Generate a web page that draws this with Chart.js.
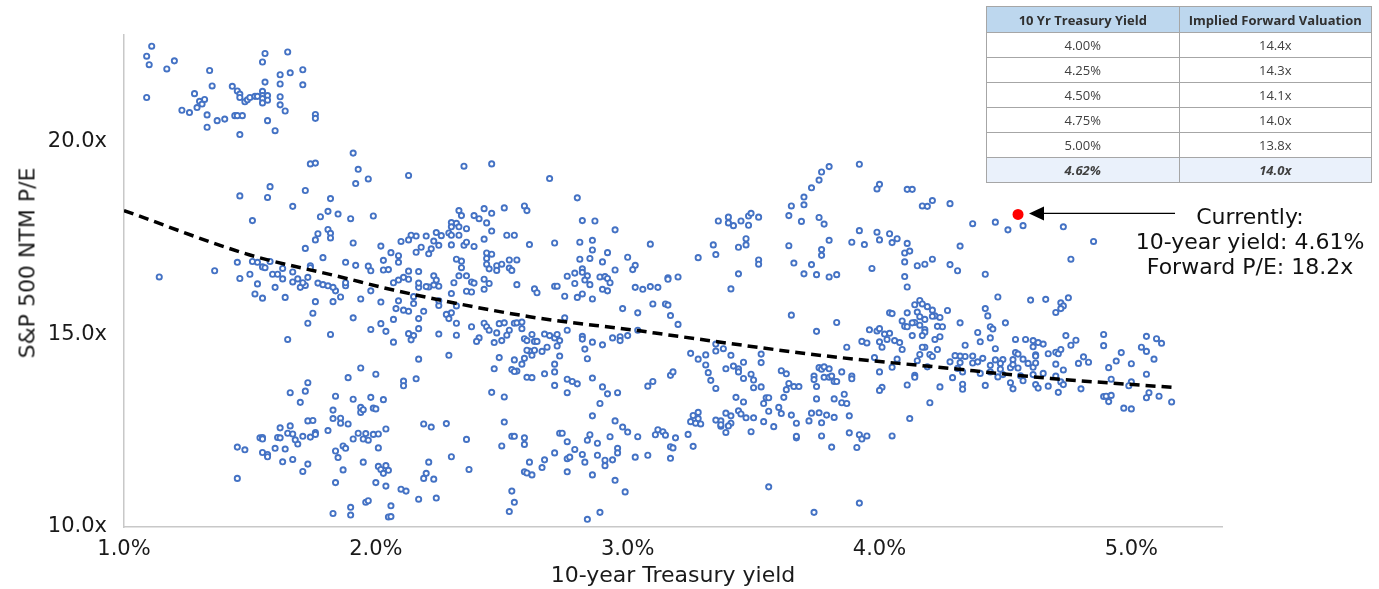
<!DOCTYPE html>
<html lang="en">
<head>
  <meta charset="UTF-8" />
  <title>S&amp;P 500 forward P/E vs 10-year Treasury yield</title>
  <script src="https://cdn.jsdelivr.net/npm/chart.js"></script>
  <style>
    body { margin: 0; background: #fff; font-family: "DejaVu Sans", sans-serif; }
    #wrap { position: relative; width: 1379px; height: 589px; }
    #yTitle { position: absolute; left: 27px; top: 263px; transform: translate(-50%, -50%) rotate(-90deg);
              white-space: nowrap; font-size: 22px; color: #1a1a1a; }
    #note { position: absolute; left: 1120px; width: 260px; top: 204px; text-align: center;
            font-size: 22px; line-height: 25px; color: #111; }
    #valTable { position: absolute; left: 986px; top: 6px; width: 386px; border-collapse: collapse;
                font-family: "Open Sans", sans-serif; font-size: 13px; color: #404040; }
    #valTable th, #valTable td { border: 1px solid #a6a6a6; text-align: center; padding: 0; width: 50%; }
    #valTable th { background: #bdd7ee; height: 25px; font-size: 13px; font-weight: bold; color: #303030; }
    #valTable td { height: 24px; }
    #valTable tr.now td { background: #eaf1fb; font-weight: bold; font-style: italic; }
  </style>
</head>
<body>
<div id="wrap">
  <canvas id="chart" width="1379" height="589"></canvas>
  <div id="yTitle">S&amp;P 500 NTM P/E</div>
  <table id="valTable">
    <thead><tr><th>10 Yr Treasury Yield</th><th>Implied Forward Valuation</th></tr></thead>
    <tbody id="valBody"></tbody>
  </table>
  <div id="note">Currently:<br>10-year yield: 4.61%<br>Forward P/E: 18.2x</div>
</div>

<script>
  // axis ticks
  const xTicks = [1, 2, 3, 4, 5];
  const yTicks = [10, 15, 20];

  // valuation table
  const tableYield = ['4.00%', '4.25%', '4.50%', '4.75%', '5.00%', '4.62%'];
  const tableValuation = ['14.4x', '14.3x', '14.1x', '14.0x', '13.8x', '14.0x'];

  // current reading (red dot)
  const currentYield = 4.55;
  const currentPE = 18.1;

  // dashed trend line
  const trendYield = [1.0, 1.5, 1.86, 2.07, 2.61, 3.04, 3.17, 3.79, 4.22, 4.68, 5.16];
  const trendPE = [18.2, 17.05, 16.48, 16.14, 15.45, 15.09, 14.97, 14.43, 14.15, 13.85, 13.62];

  // history: [10y yield %, NTM P/E]
  const history = [
    [1.11,22.46],[1.09,22.2],[1.10,21.98],[1.09,21.13],[1.17,21.87],[1.20,22.08],[1.34,21.83],[1.35,21.43],
    [1.28,21.23],[1.30,21.03],[1.31,20.96],[1.29,20.87],[1.32,21.08],[1.23,20.8],[1.26,20.74],[1.33,20.68],
    [1.33,20.36],[1.37,20.53],[1.40,20.57],[1.43,21.42],[1.45,21.3],[1.46,21.22],[1.46,21.13],[1.44,20.66],
    [1.45,20.66],[1.47,20.66],[1.46,20.17],[1.48,21.02],[1.49,21.07],[1.50,21.13],[1.52,21.16],[1.53,21.16],
    [1.55,21.29],[1.55,21.18],[1.55,21.10],[1.55,20.99],[1.56,22.27],[1.55,22.05],[1.56,21.53],[1.57,21.18],
    [1.57,21.06],[1.57,20.53],[1.60,20.27],[1.62,20.94],[1.62,21.15],[1.62,21.48],[1.62,21.72],[1.65,22.31],
    [1.66,21.77],[1.64,20.78],[1.71,21.85],[1.71,21.46],[1.76,20.69],[1.76,20.59],
    [1.74,19.41],[1.76,19.43],[1.91,19.69],[1.93,19.27],[1.92,18.9],[1.97,19.02],[1.46,18.58],[1.58,18.82],
    [1.57,18.54],[1.72,18.72],[1.67,18.31],[1.82,18.51],[1.81,18.18],[1.85,18.11],[1.90,17.99],[1.78,18.04],
    [1.99,18.06],[1.51,17.94],[1.81,17.71],[1.82,17.61],[1.82,17.49],[1.77,17.6],[1.76,17.44],[1.91,17.36],
    [1.72,17.22],[1.79,16.98],[2.02,17.28],[2.06,17.11],[2.09,17.03],[2.10,17.4],[2.03,16.91],[1.45,16.86],
    [1.51,16.88],[1.53,16.86],[1.55,16.74],[1.56,16.72],[1.58,16.88],[1.63,16.7],[1.67,16.61],[1.74,16.77],
    [1.74,16.72],[1.88,16.86],[1.92,16.78],[1.97,16.76],[1.98,16.64],[2.03,16.66],[2.05,16.67],[1.36,16.64],
    [1.14,16.48],[1.46,16.44],[1.50,16.55],
    [1.53,16.3],[1.52,16.04],[1.55,15.93],[1.59,16.55],[1.61,16.55],[1.63,16.43],[1.60,16.21],[1.64,15.95],
    [1.67,16.35],[1.69,16.43],[1.70,16.21],[1.72,16.26],[1.73,16.47],[1.71,16.33],[1.77,16.32],[1.79,16.28],
    [1.81,16.25],[1.76,15.84],[1.75,15.54],[1.73,15.28],[1.83,15.84],[1.82,14.99],[1.86,15.96],[1.84,16.12],
    [1.83,16.21],[1.88,16.25],[1.88,16.33],[1.94,15.91],[1.98,16.12],[2.02,15.83],[1.91,15.42],[1.98,15.12],
    [2.02,15.27],[2.04,15.07],[2.07,15.38],[2.07,14.79],[1.65,14.86],[2.09,15.86],[2.08,15.66],
    [1.94,14.12],[1.89,13.87],[2.00,13.96],[1.73,13.74],[1.66,13.48],[1.72,13.52],[1.70,13.23],[1.84,13.39],
    [1.91,13.31],[1.98,13.36],[2.03,13.3],[1.94,13.1],[1.94,12.97],[1.95,13.04],[1.99,13.08],[2.00,13.06],
    [1.83,13.03],[1.83,12.81],[1.86,12.82],[1.86,12.69],[1.89,12.67],[1.73,12.75],[1.75,12.76],[1.76,12.45],
    [1.76,12.4],[1.81,12.5],[1.62,12.57],[1.66,12.62],[1.65,12.43],[1.67,12.41],[1.61,12.32],[1.62,12.31],
    [1.54,12.31],[1.55,12.32],[1.55,12.28],[1.45,12.07],[1.48,12.0],[1.69,12.15],[1.68,12.26],[1.71,12.35],
    [1.74,12.33],[1.60,12.04],[1.64,12.02],[1.55,11.93],[1.57,11.88],[1.57,11.82],[1.63,11.69],[1.67,11.75],
    [1.73,11.63],[1.71,11.44],[1.45,11.26],[1.84,11.97],[1.85,11.8],[1.87,12.1],[1.88,12.04],[1.87,11.48],
    [1.93,12.43],[1.91,12.28],[1.95,12.28],[1.96,12.42],[1.97,12.25],[1.99,12.4],[2.01,12.41],[2.04,12.54],
    [2.01,12.05],[1.95,11.68],[2.01,11.57],[2.02,11.49],[2.04,11.59],[2.05,11.47],[2.03,11.39],[1.84,11.15],
    [2.00,11.15],[2.04,11.06],[2.10,10.98],[1.96,10.64],[1.97,10.68],[2.06,10.55],[1.83,10.35],[1.90,10.51],
    [1.90,10.31],[2.05,10.26],
    [2.13,19.11],[2.35,19.35],[2.46,19.41],[2.69,19.03],[2.80,18.53],[2.33,18.2],[2.34,18.07],[2.39,18.07],
    [2.41,17.99],[2.43,18.25],[2.46,18.13],[2.51,18.27],[2.59,18.32],[2.60,18.2],[2.82,17.94],[2.87,17.93],
    [2.95,17.7],[3.09,17.33],[2.30,17.89],[2.32,17.87],[2.30,17.78],[2.33,17.78],[2.36,17.73],[2.29,17.62],
    [2.30,17.56],[2.33,17.56],[2.24,17.63],[2.26,17.55],[2.20,17.54],[2.16,17.54],[2.14,17.56],[2.13,17.44],
    [2.44,17.88],[2.46,17.67],[2.52,17.56],[2.55,17.56],[2.43,17.46],[2.23,17.41],[2.30,17.31],[2.35,17.3],
    [2.36,17.38],[2.39,17.27],[2.25,17.3],[2.22,17.21],[2.18,17.25],[2.16,17.12],[2.21,17.08],[2.61,17.32],
    [2.71,17.36],[2.86,17.43],[2.86,17.18],[2.92,17.11],[2.81,16.94],[2.85,16.96],[2.90,16.87],[3.00,16.99],
    [3.03,16.78],[3.02,16.67],[2.95,16.66],[2.81,17.38],[2.44,17.1],[2.46,17.07],[2.44,16.96],[2.32,16.94],
    [2.34,16.89],[2.53,16.92],[2.56,16.92],[2.44,16.81],[2.48,16.77],[2.50,16.81],[2.45,16.69],[2.48,16.65],
    [2.53,16.71],[2.54,16.65],[2.34,16.72],[2.09,16.86],[2.13,16.63],[2.17,16.62],[2.23,16.51],[2.33,16.51],
    [2.36,16.51],[2.76,16.5],[2.79,16.58],[2.82,16.69],[2.82,16.6],[2.84,16.51],[2.89,16.48],[2.91,16.49],
    [2.92,16.44],[3.16,16.46],
    [2.07,16.33],[2.09,16.40],[2.11,16.47],[2.13,16.42],[2.24,16.4],[2.25,16.24],[2.23,16.27],[2.21,16.22],
    [2.17,16.21],[2.17,16.32],[2.20,16.23],[2.31,16.33],[2.38,16.35],[2.39,16.32],[2.38,16.09],[2.36,16.11],
    [2.43,16.16],[2.43,16.42],[2.45,16.31],[2.56,16.28],[2.63,16.17],[2.64,16.07],[2.71,16.24],[2.72,16.24],
    [2.75,15.98],[2.79,16.31],[2.80,15.95],[2.82,16.04],[2.83,16.4],[2.85,16.28],[2.86,15.91],[2.90,16.16],
    [2.92,16.12],[2.93,16.33],[3.03,16.21],[3.06,16.16],[3.09,16.23],[3.12,16.21],[3.16,16.42],[3.10,15.78],
    [3.15,15.78],[2.98,15.66],[3.04,15.55],[3.17,15.48],
    [2.11,15.62],[2.13,15.59],[2.15,15.79],[2.15,15.97],[2.19,15.59],[2.25,15.74],[2.25,15.86],[2.30,16.05],
    [2.32,15.73],[2.30,15.55],[2.28,15.51],[2.29,15.4],[2.32,15.28],[2.17,15.4],[2.17,15.14],[2.13,15.01],
    [2.15,14.96],[2.14,14.85],[2.25,15.0],[2.32,14.97],[2.17,14.35],[2.29,14.45],[2.11,13.78],[2.11,13.66],
    [2.16,13.84],
    [2.38,15.19],[2.43,15.28],[2.44,15.19],[2.45,15.1],[2.48,15.03],[2.49,15.27],[2.51,15.29],[2.53,15.1],
    [2.55,15.28],[2.56,15.29],[2.58,15.14],[2.58,15.31],[2.52,14.97],[2.50,14.83],[2.47,14.78],[2.41,14.9],
    [2.40,14.81],[2.59,14.88],[2.60,14.83],[2.62,14.99],[2.63,14.81],[2.64,14.81],[2.67,15.0],[2.69,14.96],
    [2.71,14.9],[2.72,14.99],[2.73,14.83],[2.72,14.69],[2.68,14.66],[2.66,14.55],[2.63,14.58],[2.61,14.56],
    [2.60,14.58],[2.62,14.45],[2.59,14.37],[2.58,14.22],[2.55,14.33],[2.56,14.04],[2.54,14.08],[2.55,14.03],
    [2.49,14.39],[2.47,14.1],[2.73,14.43],[2.71,14.22],[2.71,14.02],[2.71,13.67],[2.67,13.97],[2.60,13.88],
    [2.62,13.87],
    [2.76,15.1],[2.75,15.42],[2.82,14.94],[2.82,14.87],[2.83,14.61],[2.84,14.36],[2.86,14.79],[2.90,14.72],
    [2.94,14.9],[2.97,14.93],[2.97,14.83],[3.00,14.96],[3.04,15.1],
    [2.76,13.83],[2.78,13.77],[2.80,13.71],[2.76,13.48],[2.86,13.86],[2.90,13.63],[2.92,13.45],[2.96,13.48],
    [2.89,13.2],[3.08,13.65],[3.10,13.77],[3.17,13.93],[2.46,13.49],[2.51,13.37],
    [2.19,12.67],[2.22,12.59],[2.28,12.68],[2.36,12.27],[2.30,11.82],[2.37,11.49],[2.21,11.68],[2.20,11.39],
    [2.19,11.26],[2.23,11.24],[2.12,10.93],[2.17,10.72],[2.24,10.75],[2.06,10.27],
    [2.51,12.72],[2.54,12.35],[2.55,12.35],[2.59,12.31],[2.59,12.14],[2.50,12.1],[2.61,11.68],[2.59,11.43],
    [2.60,11.4],[2.62,11.35],[2.66,11.54],[2.67,11.74],[2.71,11.92],[2.54,10.93],[2.55,10.64],[2.53,10.4],
    [2.73,12.43],[2.74,12.43],[2.76,12.21],[2.79,12.01],[2.76,11.77],[2.77,11.81],[2.82,11.88],[2.76,11.43],
    [2.83,11.68],[2.85,12.39],[2.84,12.25],[2.88,12.17],[2.88,11.86],[2.86,11.35],[2.91,11.73],[2.91,11.59],
    [2.93,12.34],[2.94,11.74],[2.95,12.75],[2.96,12.04],[2.96,11.92],[2.98,12.59],[3.00,12.46],[2.95,11.21],
    [2.99,10.91],[3.03,11.81],[3.04,12.34],[3.08,11.86],[3.12,12.52],[3.11,12.39],[3.14,12.47],[3.15,12.38],
    [3.17,12.08],[3.17,11.78],[2.84,10.2],[2.89,10.38],[2.86,12.88],
    [3.92,19.4],[3.80,19.34],[3.77,19.2],[3.76,18.99],[3.73,18.79],[3.70,18.55],[3.65,18.32],[3.70,18.35],
    [3.64,18.07],[3.69,17.92],[3.76,18.02],[3.78,17.85],[4.00,18.88],[3.99,18.76],[4.11,18.75],[4.13,18.75],
    [4.21,18.46],[4.17,18.32],[4.19,18.31],
    [3.36,17.93],[3.40,18.03],[3.40,17.88],[3.42,17.81],[3.45,17.93],[3.48,18.06],[3.49,18.13],[3.48,17.82],
    [3.52,18.03],[3.34,17.31],[3.35,17.06],[3.28,16.98],[3.44,17.25],[3.47,17.31],[3.47,17.47],[3.52,16.92],
    [3.52,16.81],[3.44,16.56],[3.20,16.48],
    [3.64,17.29],[3.66,16.84],[3.70,16.56],[3.73,16.8],[3.75,16.54],[3.77,17.19],[3.77,17.04],[3.80,17.43],
    [3.80,16.48],[3.83,16.54],[3.89,17.38],[3.92,17.68],[3.94,17.32],[3.97,16.7],[3.99,17.64],[4.00,17.44],
    [4.04,17.6],[4.05,17.37],[4.07,17.47],[4.11,17.35],[4.10,17.1],[4.12,17.15],[4.10,16.87],[4.10,16.49],
    [4.15,16.77],[4.18,16.81],[4.21,16.94],
    [3.41,16.17],[4.11,16.22],[3.16,15.75],[3.20,15.25],[3.65,15.49],[3.83,15.3],[3.75,15.07],[3.18,14.02],
    [3.25,14.5],[3.28,14.35],[3.31,14.2],[3.31,14.46],[3.32,14.0],[3.33,13.8],[3.35,13.59],[3.35,14.74],
    [3.35,14.56],[3.38,14.62],[3.41,14.45],[3.39,14.1],[3.42,14.17],[3.44,14.1],[3.44,14.02],[3.46,14.27],
    [3.46,13.85],[3.49,13.96],[3.50,13.81],[3.50,13.61],[3.53,13.63],[3.53,14.48],[3.53,14.26],
    [3.43,13.36],[3.46,13.24],[3.44,13.01],[3.45,12.93],[3.47,12.83],[3.50,12.83],[3.49,12.47],[3.41,12.88],
    [3.41,12.69],[3.39,12.45],[3.39,12.95],[3.37,12.75],[3.37,12.61],[3.35,12.77],[3.37,12.65],[3.40,12.62],
    [3.25,12.73],[3.26,12.89],[3.28,12.97],[3.27,12.69],[3.29,12.67],[3.28,12.81],[3.24,12.4],[3.26,12.09],
    [3.19,12.31],[3.18,12.05],
    [3.54,12.73],[3.54,13.2],[3.55,13.35],[3.56,13.35],[3.56,13.0],[3.58,12.6],[3.60,13.1],[3.61,12.94],
    [3.62,13.36],[3.63,13.56],[3.61,14.05],[3.63,13.97],[3.64,13.72],[3.66,13.64],[3.68,13.64],[3.65,12.9],
    [3.67,12.69],[3.67,12.31],[3.67,12.35],
    [3.74,13.91],[3.74,13.82],[3.75,13.64],[3.76,14.13],[3.77,14.09],[3.78,13.88],[3.78,14.15],[3.80,14.1],
    [3.80,13.88],[3.81,13.91],[3.82,13.77],[3.83,13.77],[3.85,14.02],[3.75,13.32],[3.72,12.75],[3.73,12.95],
    [3.76,12.96],[3.77,12.7],[3.77,12.36],[3.79,12.9],[3.81,12.07],[3.82,13.32],[3.82,12.84],[3.85,13.22],
    [3.86,13.44],[3.87,13.2],[3.88,12.88],[3.89,13.91],[3.89,13.84],[3.88,12.44],[3.92,12.39],[3.93,12.28],
    [3.95,12.36],[3.91,12.06],[3.92,10.62],[3.74,10.38],[3.56,11.04],[3.87,14.66],
    [3.93,14.81],[3.95,14.77],[3.96,15.11],[3.99,15.08],[4.00,15.14],[4.00,14.8],[4.01,14.66],[4.02,15.0],
    [4.03,14.86],[4.04,15.02],[4.06,14.83],[4.08,14.78],[4.09,14.6],[4.07,14.35],[4.05,14.14],[4.00,14.02],
    [4.01,13.62],[4.00,13.54],[4.05,12.36],[3.98,14.39],
    [4.04,15.55],[4.05,15.53],[4.09,15.34],[4.10,15.2],[4.11,15.55],[4.11,15.19],[4.13,14.96],[4.11,13.68],
    [4.12,12.81],[4.14,15.76],[4.16,15.87],[4.17,15.78],[4.19,15.71],[4.15,15.57],[4.16,15.45],[4.18,15.38],
    [4.14,15.3],[4.13,15.29],[4.16,15.23],[4.18,15.12],[4.18,15.05],[4.17,14.96],[4.21,15.62],[4.22,15.47],
    [4.21,15.46],[4.22,14.86],[4.18,14.66],[4.17,14.66],[4.16,14.47],[4.15,14.31],[4.14,13.93],[4.14,13.88],
    [4.19,14.15],[4.20,14.47],[4.21,14.42],[4.23,14.6],[4.20,13.22],[4.24,13.63],[4.23,15.2],[4.24,14.93],
    [4.28,18.38],[4.37,17.86],[4.46,17.9],[4.51,17.7],[4.57,17.81],[4.73,17.78],[4.85,17.4],[4.32,17.28],
    [4.28,16.8],[4.31,16.64],[4.42,16.55],[4.76,16.94],
    [4.47,15.96],[4.60,15.88],[4.66,15.9],[4.72,15.81],[4.73,15.73],[4.70,15.56],[4.75,15.94],[4.72,15.66],
    [4.24,15.43],[4.27,15.61],[4.25,15.19],[4.32,15.29],[4.42,15.66],[4.43,15.47],[4.44,15.19],[4.45,15.13],
    [4.50,15.29],[4.39,15.04],[4.40,14.8],[4.44,14.9],[4.34,14.71],[4.46,14.62],
    [4.54,14.86],[4.58,14.86],[4.61,14.83],[4.63,14.78],[4.65,14.74],[4.61,14.67],[4.62,14.46],[4.54,14.52],
    [4.55,14.48],[4.57,14.35],[4.53,14.34],[4.52,14.13],[4.53,14.21],[4.55,14.12],[4.46,14.33],[4.49,14.34],
    [4.48,14.24],[4.44,14.19],[4.48,14.09],[4.49,13.95],[4.47,13.89],[4.44,14.02],[4.41,14.37],[4.37,14.43],
    [4.34,14.42],[4.32,14.43],[4.30,14.44],[4.28,14.28],[4.32,14.26],[4.37,14.25],[4.39,14.28],[4.40,13.98],
    [4.31,14.11],[4.33,14.02],[4.29,13.87],[4.33,13.7],[4.33,13.57],[4.42,13.67],[4.52,13.74],[4.53,13.58],
    [4.56,13.92],[4.57,13.79],[4.59,14.24],[4.61,14.14],[4.62,14.25],[4.62,14.43],[4.61,13.95],[4.62,13.69],
    [4.63,13.6],[4.67,13.65],[4.65,13.98],[4.67,14.49],[4.70,14.53],[4.71,14.49],[4.72,14.6],[4.70,14.22],
    [4.70,13.91],[4.73,14.07],[4.72,13.76],[4.73,13.69],[4.71,13.49],[4.74,14.96],[4.76,14.71],[4.78,14.84],
    [4.79,14.24],[4.81,14.41],[4.83,14.27],[4.80,13.58],[4.89,14.99],[4.89,14.7],[4.91,14.13],[4.92,13.83],
    [4.89,13.38],[4.90,13.39],[4.91,13.25],[4.92,13.41],[4.94,14.3],[4.96,14.52],[5.00,14.23],[5.00,13.76],
    [4.99,13.66],[4.97,13.08],[5.00,13.06],[5.04,14.66],[5.06,14.94],[5.06,14.55],[5.10,14.88],[5.12,14.76],
    [5.09,14.35],[5.06,13.96],[5.07,13.48],[5.06,13.35],[5.11,13.39],[5.16,13.24]
  ];

  // table rows
  const valBody = document.getElementById('valBody');
  tableYield.forEach((y, i) => {
    const tr = document.createElement('tr');
    if (i === tableYield.length - 1) tr.className = 'now';
    tr.innerHTML = `<td>${y}</td><td>${tableValuation[i]}</td>`;
    valBody.appendChild(tr);
  });

  // arrow from the note to the red dot
  const arrowPlugin = {
    id: 'arrow',
    afterDatasetsDraw(chart) {
      const { ctx, scales } = chart;
      const px = scales.x.getPixelForValue(currentYield);
      const py = scales.y.getPixelForValue(currentPE) - 1;
      const tip = px + 11;
      ctx.save();
      ctx.strokeStyle = '#000';
      ctx.fillStyle = '#000';
      ctx.lineWidth = 1.3;
      ctx.beginPath();
      ctx.moveTo(tip + 12, py);
      ctx.lineTo(px + 157, py);
      ctx.stroke();
      ctx.beginPath();
      ctx.moveTo(tip, py);
      ctx.lineTo(tip + 15, py - 7);
      ctx.lineTo(tip + 15, py + 7);
      ctx.closePath();
      ctx.fill();
      ctx.restore();
    }
  };

  Chart.defaults.font.family = '"DejaVu Sans", sans-serif';
  Chart.defaults.color = '#1a1a1a';

  const axisLine = { color: '#c8c8c8', width: 1.5 };

  new Chart(document.getElementById('chart').getContext('2d'), {
    type: 'scatter',
    data: {
      datasets: [
        {
          label: 'Current',
          data: [{ x: currentYield, y: currentPE }],
          pointRadius: 5.5,
          pointBackgroundColor: '#ff0000',
          pointBorderWidth: 0
        },
        {
          label: 'Trend',
          data: trendYield.map((x, i) => ({ x, y: trendPE[i] })),
          showLine: true,
          borderColor: '#000',
          borderWidth: 3.5,
          borderDash: [10, 6],
          pointRadius: 0,
          tension: 0.4,
          cubicInterpolationMode: 'monotone'
        },
        {
          label: 'History',
          data: history.map(([x, y]) => ({ x, y })),
          pointRadius: 2.6,
          pointBorderWidth: 1.9,
          pointBorderColor: '#4472c4',
          pointBackgroundColor: '#ffffff'
        }
      ]
    },
    options: {
      responsive: false,
      animation: false,
      layout: { padding: { top: 35, right: 157, bottom: 0, left: 0 } },
      plugins: { legend: { display: false }, tooltip: { enabled: false } },
      scales: {
        x: {
          type: 'linear',
          min: 1,
          max: 5.36,
          afterBuildTicks: s => { s.ticks = xTicks.map(v => ({ value: v })); },
          afterFit: s => { s.height = 62; },
          grid: { drawOnChartArea: false, drawTicks: false },
          border: axisLine,
          ticks: { padding: 10, maxRotation: 0, autoSkip: false, font: { size: 21 },
                   callback: v => v.toFixed(1) + '%' },
          title: { display: true, text: '10-year Treasury yield', font: { size: 22 },
                   padding: { top: 0, bottom: 0 } }
        },
        y: {
          min: 10,
          max: 22.75,
          afterBuildTicks: s => { s.ticks = yTicks.map(v => ({ value: v })); },
          afterFit: s => { s.width = 124; },
          grid: { drawOnChartArea: false, drawTicks: false },
          border: axisLine,
          ticks: { padding: 17, font: { size: 21 }, callback: v => v.toFixed(1) + 'x' }
        }
      }
    },
    plugins: [arrowPlugin]
  });
</script>
</body>
</html>
